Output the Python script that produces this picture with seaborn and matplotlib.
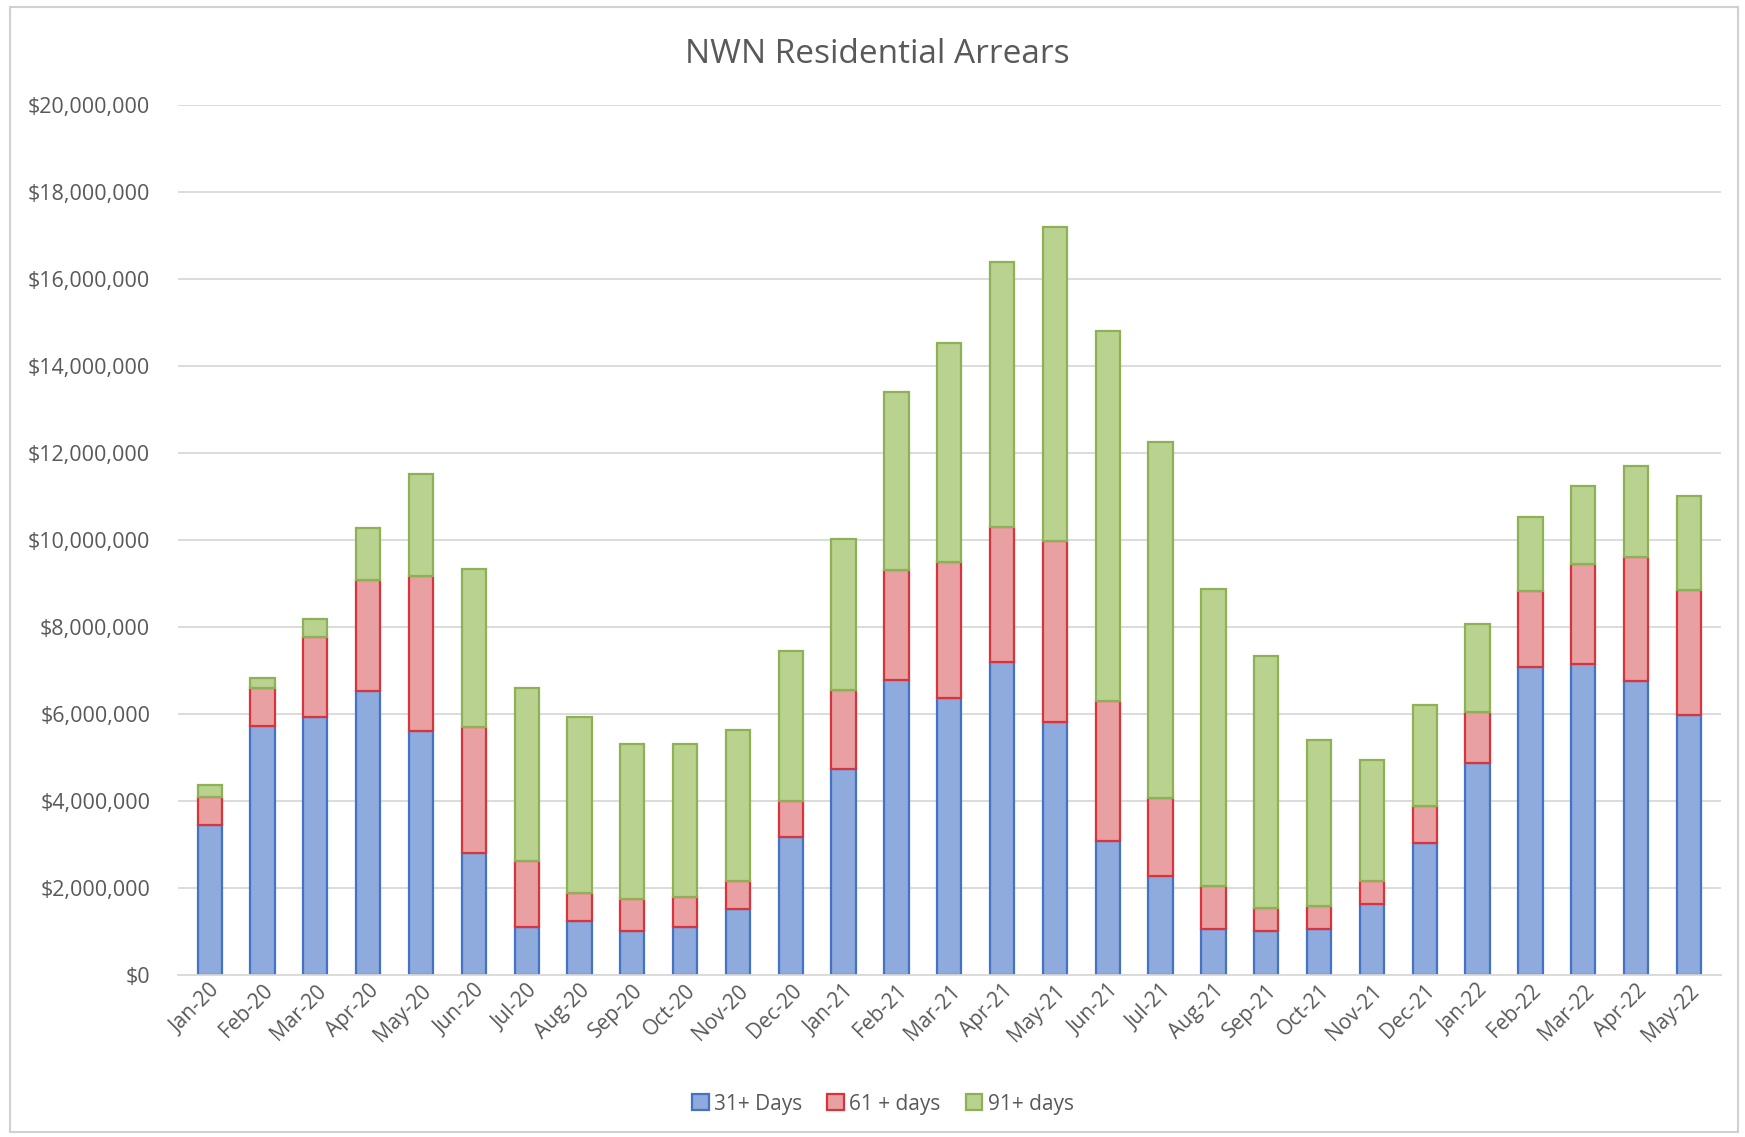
import matplotlib
matplotlib.use("Agg")
import matplotlib.pyplot as plt
import seaborn as sns
import numpy as np
import pandas as pd
from matplotlib.ticker import FuncFormatter
from matplotlib.patches import Rectangle, Patch

months = ["Jan-20", "Feb-20", "Mar-20", "Apr-20", "May-20", "Jun-20", "Jul-20", "Aug-20",
          "Sep-20", "Oct-20", "Nov-20", "Dec-20", "Jan-21", "Feb-21", "Mar-21", "Apr-21",
          "May-21", "Jun-21", "Jul-21", "Aug-21", "Sep-21", "Oct-21", "Nov-21", "Dec-21",
          "Jan-22", "Feb-22", "Mar-22", "Apr-22", "May-22"]

# values in millions of dollars (segments of each stacked bar)
days31 = [3.45, 5.73, 5.93, 6.52, 5.60, 2.81, 1.10, 1.25, 1.02, 1.10, 1.51, 3.17, 4.73, 6.78,
          6.37, 7.19, 5.81, 3.09, 2.28, 1.05, 1.00, 1.05, 1.64, 3.04, 4.88, 7.08, 7.16, 6.75, 5.98]
days61 = [0.65, 0.87, 1.84, 2.56, 3.58, 2.89, 1.53, 0.64, 0.72, 0.69, 0.66, 0.82, 1.82, 2.53,
          3.12, 3.12, 4.16, 3.20, 1.79, 1.00, 0.53, 0.54, 0.51, 0.85, 1.16, 1.74, 2.30, 2.87, 2.87]
days91 = [0.27, 0.23, 0.41, 1.20, 2.35, 3.63, 3.97, 4.04, 3.58, 3.53, 3.46, 3.45, 3.48, 4.09,
          5.04, 6.08, 7.24, 8.52, 8.18, 6.82, 5.81, 3.81, 2.79, 2.32, 2.04, 1.72, 1.79, 2.09, 2.17]

series_names = ["31+ Days", "61 + days", "91+ days"]
fill_colors = ["#8FAADC", "#E8A0A2", "#B9D28F"]
edge_colors = ["#4472C4", "#D8343C", "#8DB255"]

df = pd.DataFrame({
    "month": months,
    "d31": np.array(days31) * 1e6,
    "d61": np.array(days61) * 1e6,
    "d91": np.array(days91) * 1e6,
})

sns.set_theme(style="white")
plt.rcParams["font.family"] = ["Open Sans", "DejaVu Sans"]

fig = plt.figure(figsize=(17.45, 11.37), dpi=100)
ax = fig.add_axes([0.102, 0.1425, 0.884, 0.765])

bottom = np.zeros(len(months))
for col, fc, ec in zip(["d31", "d61", "d91"], fill_colors, edge_colors):
    sns.barplot(data=df, x="month", y=col, ax=ax, color=fc, width=0.46,
                bottom=bottom, edgecolor=ec, linewidth=1.6, saturation=1)
    bottom = bottom + df[col].values

ax.set_ylim(0, 20e6)
ax.set_xlim(-0.6, len(months) - 0.4)
ax.set_yticks(np.arange(0, 20e6 + 1, 2e6))
ax.yaxis.set_major_formatter(FuncFormatter(lambda v, p: "${:,.0f}".format(v)))
ax.grid(axis="y", color="#D9D9D9", linewidth=1.3)
ax.set_axisbelow(True)
for s in ["top", "right", "left"]:
    ax.spines[s].set_visible(False)
ax.spines["bottom"].set_color("#D9D9D9")
ax.spines["bottom"].set_linewidth(1.3)
ax.set_xlabel("")
ax.set_ylabel("")
ax.tick_params(axis="y", labelsize=15.5, colors="#595959", length=0, pad=20)
ax.tick_params(axis="x", labelsize=15, colors="#595959", length=0, pad=4)
plt.setp(ax.get_xticklabels(), rotation=45, ha="right", rotation_mode="anchor")

fig.text(0.503, 0.952, "NWN Residential Arrears", ha="center", va="center",
         fontsize=24, color="#595959")

handles = [Patch(facecolor=fc, edgecolor=ec, linewidth=1.6, label=n)
           for n, fc, ec in zip(series_names, fill_colors, edge_colors)]
fig.legend(handles=handles, loc="center", bbox_to_anchor=(0.506, 0.029), ncol=3,
           frameon=False, fontsize=15, handlelength=0.8, handleheight=0.8,
           handletextpad=0.25, columnspacing=1.2, labelcolor="#595959")

fig.patches.append(Rectangle((0.006, 0.004), 0.99, 0.99, transform=fig.transFigure,
                             fill=False, edgecolor="#D0D0D0", linewidth=1.5))

fig.savefig("out.png", dpi=100, facecolor="white")
